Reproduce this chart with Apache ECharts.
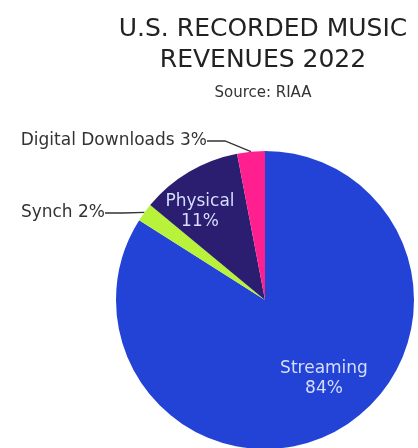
<!DOCTYPE html>
<html><head><meta charset="utf-8">
<script src="https://cdn.jsdelivr.net/npm/echarts@6/dist/echarts.min.js"></script>
<style>html,body{margin:0;padding:0;background:#fff}#c{width:418px;height:448px}</style>
</head><body><div id="c"></div>
<script>
const categories = ["Streaming", "Synch", "Physical", "Digital Downloads"];
const shares = [84, 2, 11, 3];
const colors = ["#2243d6", "#b8f23a", "#2b1d70", "#ff1f8f"];

const FONT = '"DejaVu Sans"';
const chart = echarts.init(document.getElementById('c'));
const insideLabel = {position: 'inside', color: '#d6defc', fontSize: 17, lineHeight: 20,
  fontFamily: FONT, formatter: p => p.name + '\n' + p.value + '%'};
const outsideLabel = {position: 'outside', color: '#333', fontSize: 17, fontFamily: FONT,
  formatter: p => p.name + ' ' + p.value + '%'};
const data = categories.map((c, i) => {
  const inside = c === 'Streaming' || c === 'Physical';
  return {name: c, value: shares[i], itemStyle: {color: colors[i]},
    label: inside ? insideLabel : outsideLabel,
    labelLine: {show: !inside, length: 12, length2: 18, lineStyle: {color: '#333', width: 1.3}}};
});
chart.setOption({
  animation: false,
  title: {text: 'U.S. RECORDED MUSIC\nREVENUES 2022', subtext: 'Source: RIAA',
    left: 258, top: 9, textAlign: 'center', itemGap: 10,
    textStyle: {fontFamily: FONT, fontSize: 25, fontWeight: 'normal', color: '#222', lineHeight: 31},
    subtextStyle: {fontFamily: FONT, fontSize: 15, color: '#333'}},
  series: [{
    type: 'pie', center: [265, 300], radius: [0, 149], startAngle: 90, clockwise: true,
    data: data,
    labelLayout: function (p) {
      if (p.dataIndex === 3) return {x: 207, y: 141, align: 'right', verticalAlign: 'middle'};
      if (p.dataIndex === 1) return {x: 105, y: 213, align: 'right', verticalAlign: 'middle'};
      if (p.dataIndex === 0) return {x: 324, y: 379, align: 'center', verticalAlign: 'middle'};
      if (p.dataIndex === 2) return {x: 200, y: 212, align: 'center', verticalAlign: 'middle'};
    }
  }]
});
</script></body></html>
